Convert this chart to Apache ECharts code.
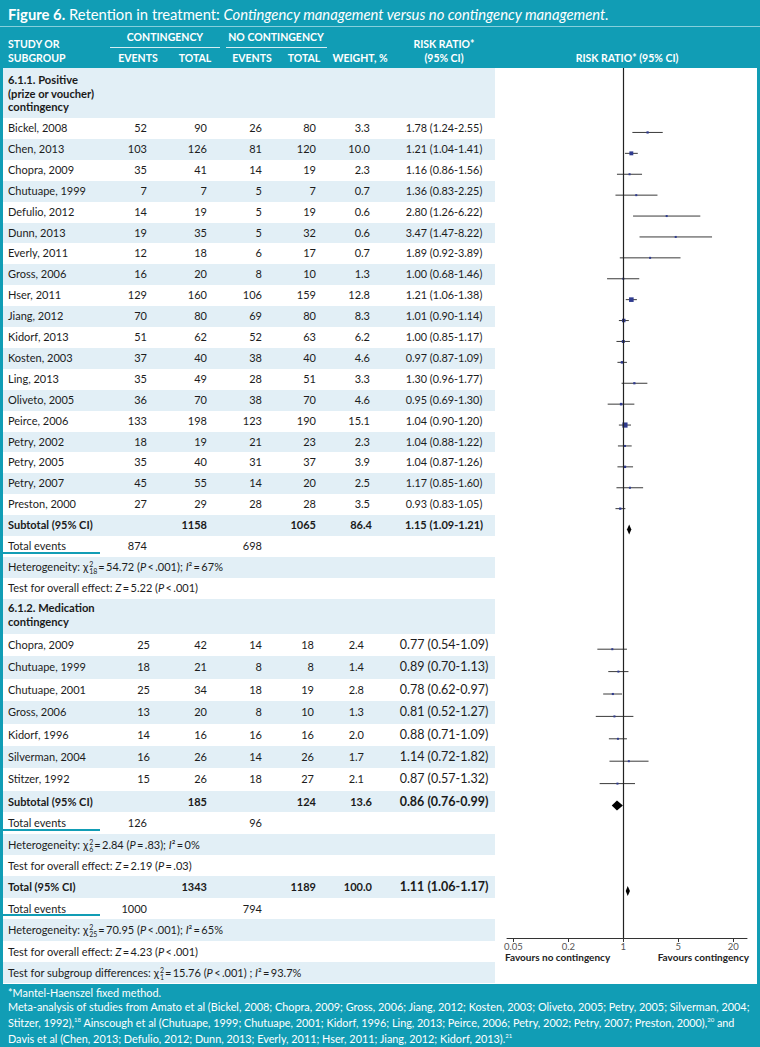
<!DOCTYPE html>
<html><head><meta charset="utf-8">
<script src="https://cdn.jsdelivr.net/npm/echarts@6/dist/echarts.min.js"></script>
<style>
html,body{margin:0;padding:0;}
body{width:760px;height:1047px;overflow:hidden;font-family:Lato,'Open Sans',sans-serif;}
#fig{position:relative;width:760px;height:1047px;background:#119db5;overflow:hidden;}
#title{position:absolute;left:8px;top:0;height:26px;line-height:28px;font-size:14.5px;color:#fff;white-space:nowrap;}
#titleLine{position:absolute;left:0;top:26px;width:760px;height:1px;background:#86cfdb;}
.hd{position:absolute;color:#fff;font-weight:700;font-size:10.5px;white-space:nowrap;height:14px;line-height:14px;}
.hline{position:absolute;height:1px;background:#d4eef3;}
#body{position:absolute;left:3px;top:68px;width:754px;height:916px;background:#fff;}
.row{position:absolute;left:3px;width:492px;}
.blue{background:#e2eff6;}
.c{position:absolute;white-space:nowrap;font-size:11px;color:#1c1c1c;}
.r{text-align:right;width:80px;}
.ctr{text-align:center;width:140px;}
.b{font-weight:700;color:#1a1a1a;}
.rr1{font-size:10.8px;}
.rr2{font-size:12.5px;}
.gh{position:absolute;left:8px;font-weight:700;font-size:11.2px;color:#1a1a1a;line-height:13.6px;white-space:nowrap;}
.mk{position:absolute;left:0;width:100px;height:2px;background:#119db5;}
.ss{display:inline-block;vertical-align:-3px;font-size:7px;line-height:7px;text-align:left;margin:0 1px 0 1px;}
#chart{position:absolute;left:495px;top:68px;width:262px;height:916px;}
.fav{position:absolute;top:950px;font-size:10px;font-weight:700;color:#222;white-space:nowrap;line-height:14px;}
#foot{position:absolute;left:8px;top:986px;color:#fff;font-size:10.5px;line-height:13.5px;white-space:nowrap;}
</style></head>
<body><div id="fig">
<div id="title"><b>Figure 6.</b> Retention in treatment: <i>Contingency management versus no contingency management.</i></div>
<div id="titleLine"></div>
<div id="body"></div>
<div id="chart"></div>
<div class="fav" style="left:505px;">Favours no contingency</div>
<div class="fav" style="left:629px;width:120px;text-align:right;">Favours contingency</div>
<div id="foot"></div>
</div>
<script>
// ---------------- DATA ----------------
const studies1 = ['Bickel, 2008','Chen, 2013','Chopra, 2009','Chutuape, 1999','Defulio, 2012','Dunn, 2013','Everly, 2011','Gross, 2006','Hser, 2011','Jiang, 2012','Kidorf, 2013','Kosten, 2003','Ling, 2013','Oliveto, 2005','Peirce, 2006','Petry, 2002','Petry, 2005','Petry, 2007','Preston, 2000'];
const cEvents1 = [52,103,35,7,14,19,12,16,129,70,51,37,35,36,133,18,35,45,27];
const cTotal1  = [90,126,41,7,19,35,18,20,160,80,62,40,49,70,198,19,40,55,29];
const nEvents1 = [26,81,14,5,5,5,6,8,106,69,52,38,28,38,123,21,31,14,28];
const nTotal1  = [80,120,19,7,19,32,17,10,159,80,63,40,51,70,190,23,37,20,28];
const weight1  = [3.3,10.0,2.3,0.7,0.6,0.6,0.7,1.3,12.8,8.3,6.2,4.6,3.3,4.6,15.1,2.3,3.9,2.5,3.5];
const rr1 = [1.78,1.21,1.16,1.36,2.80,3.47,1.89,1.00,1.21,1.01,1.00,0.97,1.30,0.95,1.04,1.04,1.04,1.17,0.93];
const lo1 = [1.24,1.04,0.86,0.83,1.26,1.47,0.92,0.68,1.06,0.90,0.85,0.87,0.96,0.69,0.90,0.88,0.87,0.85,0.83];
const hi1 = [2.55,1.41,1.56,2.25,6.22,8.22,3.89,1.46,1.38,1.14,1.17,1.09,1.77,1.30,1.20,1.22,1.26,1.60,1.05];

const studies2 = ['Chopra, 2009','Chutuape, 1999','Chutuape, 2001','Gross, 2006','Kidorf, 1996','Silverman, 2004','Stitzer, 1992'];
const cEvents2 = [25,18,25,13,14,16,15];
const cTotal2  = [42,21,34,20,16,26,26];
const nEvents2 = [14,8,18,8,16,14,18];
const nTotal2  = [18,8,19,10,16,26,27];
const weight2  = [2.4,1.4,2.8,1.3,2.0,1.7,2.1];
const rr2 = [0.77,0.89,0.78,0.81,0.88,1.14,0.87];
const lo2 = [0.54,0.70,0.62,0.52,0.71,0.72,0.57];
const hi2 = [1.09,1.13,0.97,1.27,1.09,1.82,1.32];

const pooledLabels = ['Subtotal (95% CI)','Subtotal (95% CI)','Total (95% CI)'];
const pooledCTotal = [1158,185,1343];
const pooledNTotal = [1065,124,1189];
const pooledWeight = [86.4,13.6,100.0];
const pooledRR = [1.15,0.86,1.11];
const pooledLo = [1.09,0.76,1.06];
const pooledHi = [1.21,0.99,1.17];
const totalEventsC = [874,126,1000];
const totalEventsN = [698,96,794];

const groupTitles = [['6.1.1. Positive','(prize or voucher)','contingency'],['6.1.2. Medication','contingency']];
const hetTexts = [
  'Heterogeneity: χ<span class="ss">2<br>18</span>=\u200954.72 (<i>P</i>\u2009&lt;\u2009.001); <i>I</i>²\u2009=\u200967%',
  'Heterogeneity: χ<span class="ss">2<br>6</span>=\u20092.84 (<i>P</i>\u2009=\u2009.83); <i>I</i>²\u2009=\u20090%',
  'Heterogeneity: χ<span class="ss">2<br>25</span>=\u200970.95 (<i>P</i>\u2009&lt;\u2009.001); <i>I</i>²\u2009=\u200965%'
];
const testTexts = [
  'Test for overall effect: <i>Z</i>\u2009=\u20095.22 (<i>P</i>\u2009&lt;\u2009.001)',
  'Test for overall effect: <i>Z</i>\u2009=\u20092.19 (<i>P</i>\u2009=\u2009.03)',
  'Test for overall effect: <i>Z</i>\u2009=\u20094.23 (<i>P</i>\u2009&lt;\u2009.001)'
];
const subgroupText = 'Test for subgroup differences: χ<span class="ss">2<br>1</span>=\u200915.76 (<i>P</i>\u2009&lt;\u2009.001) ; <i>I</i>²\u2009=\u200993.7%';
const tickLabels = ['0.05','0.2','1','5','20'];
const footLines = [
  '*Mantel-Haenszel fixed method.',
  'Meta-analysis of studies from Amato et al (Bickel, 2008; Chopra, 2009; Gross, 2006; Jiang, 2012; Kosten, 2003; Oliveto, 2005; Petry, 2005; Silverman, 2004;',
  'Stitzer, 1992),<sup style="font-size:6px">18</sup> Ainscough et al (Chutuape, 1999; Chutuape, 2001; Kidorf, 1996; Ling, 2013; Peirce, 2006; Petry, 2002; Petry, 2007; Preston, 2000),<sup style="font-size:6px">20</sup> and',
  'Davis et al (Chen, 2013; Defulio, 2012; Dunn, 2013; Everly, 2011; Hser, 2011; Jiang, 2012; Kidorf, 2013).<sup style="font-size:6px">21</sup>'
];

// ---------------- LAYOUT ----------------
const fig = document.getElementById('fig');
function el(cls, style, html){ const e=document.createElement('div'); e.className=cls; Object.assign(e.style, style); if(html!=null) e.innerHTML=html; fig.appendChild(e); return e; }
function hd(text, x, yc, align){
  if(align==='c') el('hd',{left:(x-80)+'px',width:'160px',textAlign:'center',top:(yc-7)+'px'},text);
  else el('hd',{left:x+'px',top:(yc-7)+'px'},text);
}
hd('STUDY OR',8,44); hd('SUBGROUP',8,58);
hd('CONTINGENCY',165,37,'c'); hd('NO CONTINGENCY',276,37,'c');
el('hline',{left:'110px',width:'110px',top:'47px'}); el('hline',{left:'226px',width:'101px',top:'47px'});
hd('EVENTS',138,58,'c'); hd('TOTAL',195,58,'c'); hd('EVENTS',252,58,'c'); hd('TOTAL',304,58,'c'); hd('WEIGHT, %',360,58,'c');
hd('RISK RATIO*',444,44,'c'); hd('(95% CI)',444,58,'c'); hd('RISK RATIO* (95% CI)',627,58,'c');

const COL = {e1:147,t1:207,e2:262,t2:316,w:370,rr:444};
const FOREST_OFFSET = 4;
let yTop = 68, rowIdx = 0;
const studyPts = [], pooledPts = [];
function band(h){ el('row'+(rowIdx%2===0?' blue':''),{top:yTop+'px',height:h+'px'}); rowIdx++; }
function cL(h,x,html,cls){ el('c '+(cls||''),{left:x+'px',top:yTop+'px',height:h+'px',lineHeight:h+'px'},html); }
function cR(h,xr,html,cls){ el('c r '+(cls||''),{left:(xr-80)+'px',top:yTop+'px',height:h+'px',lineHeight:h+'px'},html); }
function cC(h,xc,html,cls){ el('c ctr '+(cls||''),{left:(xc-70)+'px',top:yTop+'px',height:h+'px',lineHeight:h+'px'},html); }
const fmtRR = (r,l,h)=> r.toFixed(2)+' ('+l.toFixed(2)+'-'+h.toFixed(2)+')';
const yVal = (h)=> yTop + h/2 - 68 + FOREST_OFFSET;

function groupHeader(lines, h, pad){ band(h); el('gh',{top:(yTop+pad)+'px'},lines.join('<br>')); yTop+=h; }
function studyRow(h, name, ce, ct, ne, nt, w, r, l, hi, rrCls, shift){
  band(h);
  cL(h,8,name); cR(h,COL.e1+(shift?3:0),ce); cR(h,COL.t1,ct); cR(h,COL.e2,ne); cR(h,COL.t2-(shift?2:0),nt);
  cR(h,COL.w-(shift?6:0),w.toFixed(1)); cC(h,COL.rr,fmtRR(r,l,hi),rrCls);
  studyPts.push([l,hi,r,yVal(h),w]); yTop+=h;
}
function pooledRow(h,i,rrCls){
  band(h);
  cL(h,8,pooledLabels[i],'b'); cR(h,COL.t1,pooledCTotal[i],'b'); cR(h,COL.t2,pooledNTotal[i],'b');
  cR(h,COL.w+2,pooledWeight[i].toFixed(1),'b'); cC(h,COL.rr,fmtRR(pooledRR[i],pooledLo[i],pooledHi[i]),'b '+rrCls);
  pooledPts.push([pooledLo[i],pooledHi[i],pooledRR[i],yVal(h)]); yTop+=h;
}
function eventsRow(h,i){ band(h); cL(h,8,'Total events'); cR(h,COL.e1,totalEventsC[i]); cR(h,COL.e2,totalEventsN[i]); el('mk',{top:(yTop+h-5)+'px'}); yTop+=h; }
function textRow(h,html){ band(h); cL(h,8,html); yTop+=h; }

const H1=20.9, H2=22.4, H3=21.4;
groupHeader(groupTitles[0],50,5);
studies1.forEach((s,i)=>studyRow(H1,s,cEvents1[i],cTotal1[i],nEvents1[i],nTotal1[i],weight1[i],rr1[i],lo1[i],hi1[i],'rr1',false));
pooledRow(H1,0,'rr1b'); eventsRow(H1,0); textRow(H1,hetTexts[0]); textRow(H1,testTexts[0]);
groupHeader(groupTitles[1],35.3,2.5);
studies2.forEach((s,i)=>studyRow(H2,s,cEvents2[i],cTotal2[i],nEvents2[i],nTotal2[i],weight2[i],rr2[i],lo2[i],hi2[i],'rr2',true));
pooledRow(H3,1,'rr2'); eventsRow(H3,1); textRow(H3,hetTexts[1]); textRow(H3,testTexts[1]);
pooledRow(H3,2,'rr2'); eventsRow(H3,2); textRow(H3,hetTexts[2]); textRow(H3,testTexts[2]); textRow(H3,subgroupText);

document.getElementById('foot').innerHTML = footLines.join('<br>');

// ---------------- CHART ----------------
const X_MIN = 0.0632, X_MAX = 18.85;
const TICK_POS = [-2,-1,0,1,2];
const chart = echarts.init(document.getElementById('chart'), null, {renderer:'svg'});
chart.setOption({
  animation:false,
  grid:{left:12,right:10,top:0,height:870},
  xAxis:[
    {type:'log',logBase:10,min:X_MIN,max:X_MAX,show:false},
    {type:'value',min:-2.115,max:2.249,position:'bottom',
     axisLine:{show:true,onZero:false,lineStyle:{color:'#333',width:1}},
     axisTick:{show:true,customValues:TICK_POS,length:4,lineStyle:{color:'#333'}},
     axisLabel:{customValues:TICK_POS,formatter:(v)=>tickLabels[TICK_POS.indexOf(v)],color:'#555',fontSize:9.5,fontFamily:'Lato',margin:3},
     splitLine:{show:false}}
  ],
  yAxis:{type:'value',inverse:true,min:0,max:870,show:false},
  series:[
    {type:'custom',xAxisIndex:0,yAxisIndex:0,data:studyPts,silent:true,
     encode:{x:[0,1,2],y:3},
     renderItem:function(params,api){
       const a=api.coord([api.value(0),api.value(3)]), b=api.coord([api.value(1),api.value(3)]), p=api.coord([api.value(2),api.value(3)]);
       const s=Math.max(2,1.4+0.25*api.value(4));
       return {type:'group',children:[
         {type:'line',shape:{x1:a[0],y1:a[1],x2:b[0],y2:b[1]},style:{stroke:'#3a3a3a',lineWidth:1}},
         {type:'rect',shape:{x:p[0]-s/2,y:p[1]-s/2,width:s,height:s},style:{fill:'#2f3b8f'}}
       ]};
     },
     markLine:{silent:true,symbol:'none',label:{show:false},lineStyle:{color:'#222',width:1.2,type:'solid'},data:[{xAxis:1}]}
    },
    {type:'custom',xAxisIndex:0,yAxisIndex:0,data:pooledPts,silent:true,
     encode:{x:[0,1,2],y:3},
     renderItem:function(params,api){
       const a=api.coord([api.value(0),api.value(3)]), b=api.coord([api.value(1),api.value(3)]), p=api.coord([api.value(2),api.value(3)]);
       return {type:'polygon',shape:{points:[[a[0],a[1]],[p[0],p[1]-5],[b[0],b[1]],[p[0],p[1]+5]]},style:{fill:'#000'}};
     }
    }
  ]
});

// fit title & footer widths
(function(){
  const t=document.getElementById('title'); const tw=t.scrollWidth; t.style.fontSize=(14.5*601/tw).toFixed(2)+'px';
  const f=document.getElementById('foot');
  const probe=document.createElement('span'); probe.style.cssText='position:absolute;visibility:hidden;white-space:nowrap;font-size:10.5px;font-family:inherit';
  probe.innerHTML=footLines[1]; f.appendChild(probe); const w=probe.offsetWidth; f.removeChild(probe);
  f.style.fontSize=(10.5*742/w).toFixed(2)+'px';
})();
</script>
</body></html>
